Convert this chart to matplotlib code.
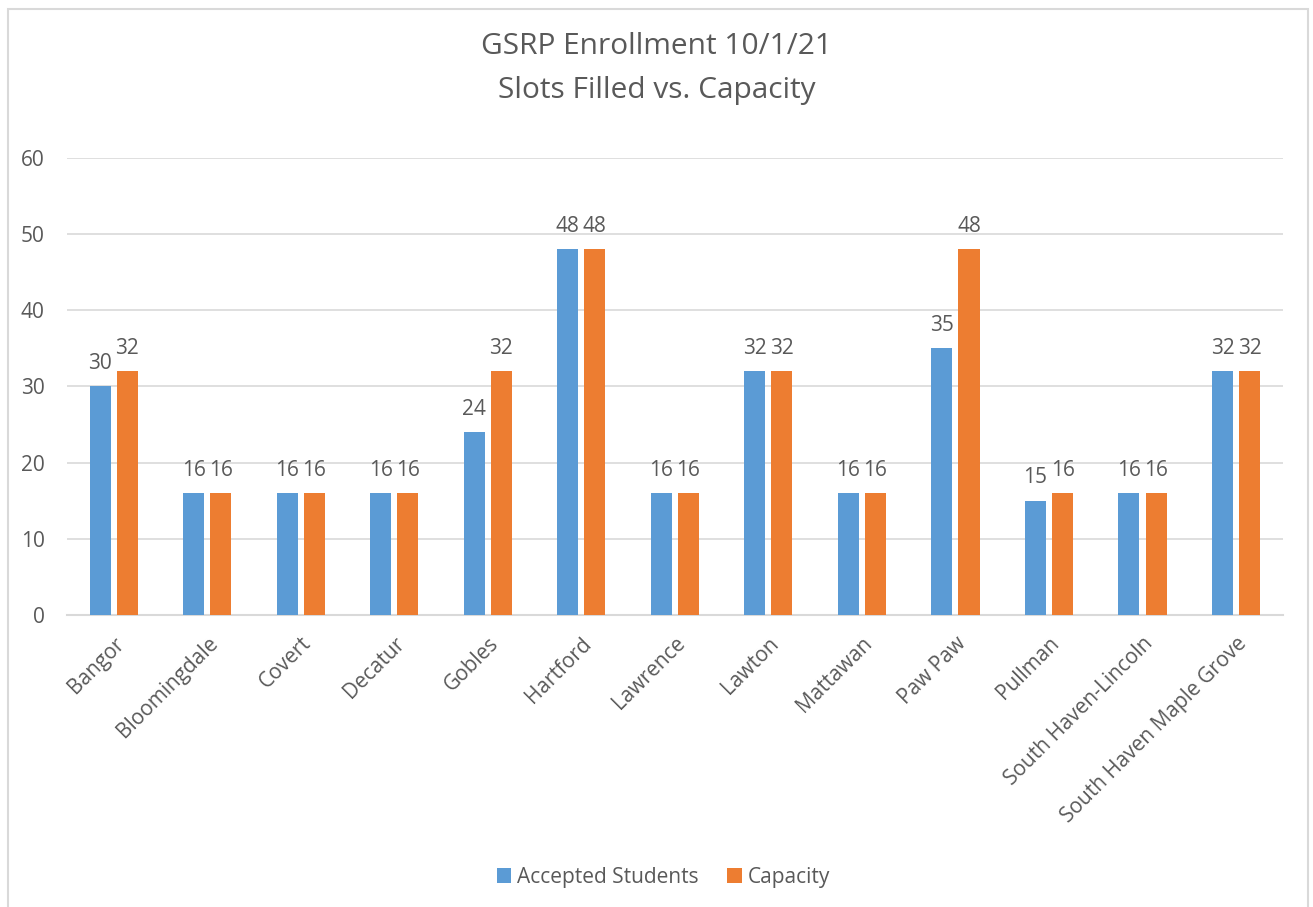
import matplotlib

matplotlib.use("Agg")

import matplotlib.pyplot as plt  # noqa: E402
import numpy as np
from matplotlib import font_manager
from matplotlib.patches import Rectangle

schools = [
    "Bangor", "Bloomingdale", "Covert", "Decatur", "Gobles", "Hartford",
    "Lawrence", "Lawton", "Mattawan", "Paw Paw", "Pullman",
    "South Haven-Lincoln", "South Haven Maple Grove",
]
accepted = [30, 16, 16, 16, 24, 48, 16, 32, 16, 35, 15, 16, 32]
capacity = [32, 16, 16, 16, 32, 48, 16, 32, 16, 48, 16, 16, 32]

BLUE = "#5B9BD5"
ORANGE = "#ED7D31"
TEXT = "#595959"
GRID = "#D9D9D9"

plt.rcParams["font.family"] = ["Open Sans", "DejaVu Sans"]

# title in a narrow face if one is around
installed = {f.name for f in font_manager.fontManager.ttflist}
if "Liberation Sans Narrow" in installed:
    title_font, title_size = "Liberation Sans Narrow", 25
else:
    title_font, title_size = "Open Sans", 21.5

fig = plt.figure(figsize=(13.13, 9.07), dpi=100)
ax = fig.add_axes([0.051, 0.322, 0.926, 0.504])

# chart frame
fig.patches.append(Rectangle((0.006, -0.01), 0.99, 1.0, transform=fig.transFigure,
                             fill=False, edgecolor=GRID, linewidth=1.5))

x = np.arange(len(schools))
w = 0.225
off = 0.145
b1 = ax.bar(x - off, accepted, w, color=BLUE, label="Accepted Students", zorder=3)
b2 = ax.bar(x + off, capacity, w, color=ORANGE, label="Capacity", zorder=3)
ax.bar_label(b1, padding=9, fontsize=15, color=TEXT)
ax.bar_label(b2, padding=9, fontsize=15, color=TEXT)

ax.set_xlim(-0.5, len(schools) - 0.5)
ax.set_ylim(0, 60)
ax.set_yticks(range(0, 61, 10))
ax.yaxis.grid(True, color=GRID, linewidth=1.2, zorder=0)
ax.set_axisbelow(True)
for s in ["top", "right", "left"]:
    ax.spines[s].set_visible(False)
ax.spines["bottom"].set_color(GRID)
ax.spines["bottom"].set_linewidth(1.5)
ax.tick_params(axis="both", length=0, colors=TEXT)
ax.tick_params(axis="y", pad=16, labelsize=15)
ax.tick_params(axis="x", pad=13, labelsize=15)
ax.set_xticks(x)
ax.set_xticklabels(schools, rotation=45, ha="right", rotation_mode="anchor")

fig.text(0.5, 0.9245, "GSRP Enrollment 10/1/21\nSlots Filled vs. Capacity",
         ha="center", va="center", fontsize=title_size, color=TEXT,
         family=[title_font, "DejaVu Sans"], linespacing=1.7)

fig.legend(handles=[b1, b2], loc="center", bbox_to_anchor=(0.5053, 0.033), ncol=2,
           frameon=False, fontsize=15, handlelength=0.7, handleheight=0.7,
           handletextpad=0.3, columnspacing=1.35, labelcolor=TEXT)

fig.savefig("out.png", dpi=100)
